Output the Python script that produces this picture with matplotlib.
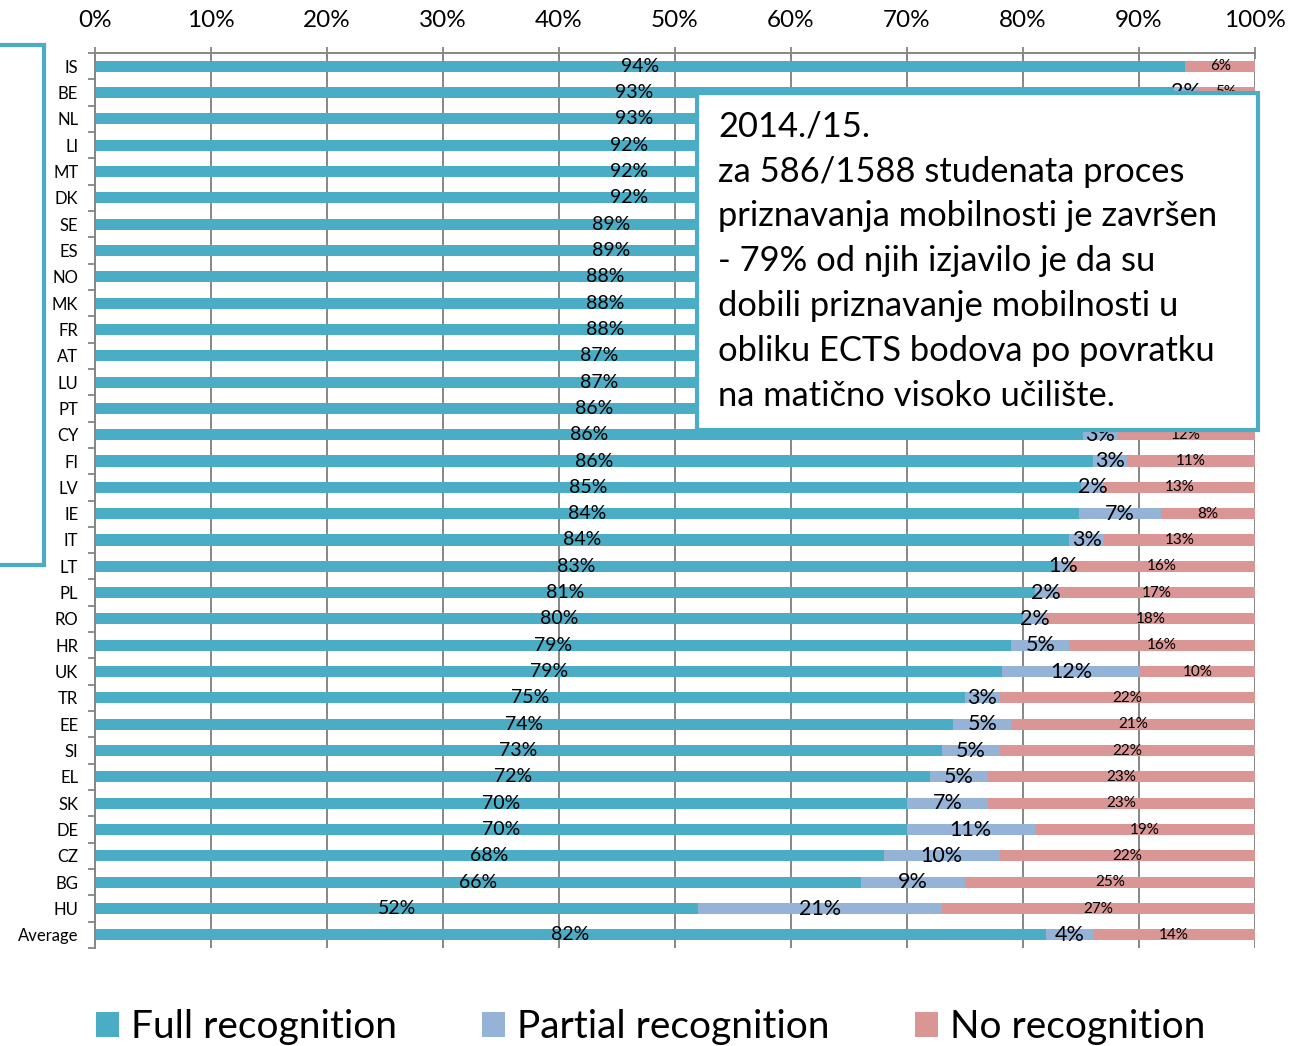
import matplotlib
matplotlib.use("Agg")
import matplotlib.pyplot as plt
from matplotlib.patches import Rectangle, Patch
import numpy as np

plt.rcParams['font.family'] = ['Lato', 'DejaVu Sans']

countries = ["IS", "BE", "NL", "LI", "MT", "DK", "SE", "ES", "NO", "MK", "FR", "AT",
             "LU", "PT", "CY", "FI", "LV", "IE", "IT", "LT", "PL", "RO", "HR", "UK",
             "TR", "EE", "SI", "EL", "SK", "DE", "CZ", "BG", "HU", "Average"]
full = [94, 93, 93, 92, 92, 92, 89, 89, 88, 88, 88, 87, 87, 86, 86, 86, 85, 84, 84, 83,
        81, 80, 79, 79, 75, 74, 73, 72, 70, 70, 68, 66, 52, 82]
partial = [0, 2, 2, 0, 1, 2, 3, 2, 2, 1, 3, 3, 4, 4, 3, 3, 2, 7, 3, 1,
           2, 2, 5, 12, 3, 5, 5, 5, 7, 11, 10, 9, 21, 4]
none_ = [6, 5, 5, 8, 7, 6, 8, 9, 10, 11, 9, 10, 9, 10, 12, 11, 13, 8, 13, 16,
         17, 18, 16, 10, 22, 21, 22, 23, 23, 19, 22, 25, 27, 14]
series_names = ["Full recognition", "Partial recognition", "No recognition"]
colors = ["#4BACC6", "#95B3D7", "#D99694"]
xticks = [0, 10, 20, 30, 40, 50, 60, 70, 80, 90, 100]

box_lines = ["2014./15.",
             "za 586/1588 studenata proces",
             "priznavanja mobilnosti je završen",
             "- 79% od njih izjavilo je da su",
             "dobili priznavanje mobilnosti u",
             "obliku ECTS bodova po povratku",
             "na matično visoko učilište."]

W, H = 1301, 1046
fig = plt.figure(figsize=(W / 100, H / 100), dpi=100)
ax = fig.add_axes([95 / W, 1 - 948 / H, (1255 - 95) / W, (948 - 53) / H])

f = np.array(full, float)
p = np.array(partial, float)
n = np.array(none_, float)
tot = f + p + n
fn, pn, nn = f / tot * 100, p / tot * 100, n / tot * 100
y = np.arange(len(countries))
bh = 0.42
ax.barh(y, fn, height=bh, color=colors[0], zorder=2)
ax.barh(y, pn, left=fn, height=bh, color=colors[1], zorder=2)
ax.barh(y, nn, left=fn + pn, height=bh, color=colors[2], zorder=2)

ax.set_xlim(0, 100)
ax.set_ylim(len(countries) - 0.5, -0.5)

# annotation box extent in pixels (top-left origin)
bx0, bx1, by0, by1 = 697, 1258, 93, 430


def hidden(xd, yd):
    px, py = ax.transData.transform((xd, yd))
    py = H - py
    return (bx0 + 25 < px < bx1) and (by0 + 10 < py < by1 - 10)


for i in range(len(countries)):
    ax.text(fn[i] / 2, y[i], f"{full[i]}%", ha="center", va="center", fontsize=14, zorder=3)
    xp = fn[i] + pn[i] / 2
    if partial[i] > 0 and not hidden(xp, y[i]):
        ax.text(xp, y[i], f"{partial[i]}%", ha="center", va="center",
                fontsize=15.5, zorder=3)
    xn = fn[i] + pn[i] + nn[i] / 2
    if not hidden(xn, y[i]):
        ax.text(xn, y[i], f"{none_[i]}%", ha="center", va="center",
                fontsize=11, zorder=3)

ax.xaxis.tick_top()
ax.set_xticks(xticks)
ax.set_xticklabels([f"{t}%" for t in xticks], fontsize=17.5)
ax.tick_params(axis="x", direction="inout", length=8, width=1.3, color="#868686", pad=12)
ax.set_yticks(y)
ax.set_yticklabels(countries, fontsize=12)
ax.set_yticks(np.arange(len(countries) + 1) - 0.5, minor=True)
ax.tick_params(axis="y", which="major", length=0, pad=12)
ax.tick_params(axis="y", which="minor", length=5, width=1.3, color="#868686")
ax.grid(axis="x", color="#868686", linewidth=1.4, zorder=1)
ax.set_axisbelow(True)
for s in ["right", "bottom"]:
    ax.spines[s].set_visible(False)
for s in ["left", "top"]:
    ax.spines[s].set_color("#868686")
    ax.spines[s].set_linewidth(1.4)

# left bracket box
fig.patches.append(Rectangle((-20 / W, 1 - 565 / H), 64 / W, 520 / H,
                             transform=fig.transFigure, fill=False,
                             edgecolor=colors[0], linewidth=3, zorder=5))
# annotation box
fig.patches.append(Rectangle((bx0 / W, 1 - by1 / H), (bx1 - bx0) / W, (by1 - by0) / H,
                             transform=fig.transFigure, facecolor="white",
                             edgecolor=colors[0], linewidth=3, zorder=5))
line_y = [127, 172, 216, 261, 306, 351, 396]
for txt, yy in zip(box_lines, line_y):
    fig.text(718 / W, 1 - yy / H, txt, ha="left", va="center", fontsize=24.8, zorder=6)

handles = [Patch(facecolor=c, edgecolor="none") for c in colors]
fig.legend(handles, series_names, loc="center", bbox_to_anchor=(0.500, 1 - 1027 / H),
           ncol=3, frameon=False, fontsize=28, handlelength=0.6, handleheight=0.6,
           handletextpad=0.3, columnspacing=2.2)

fig.savefig("out.png", dpi=100)
